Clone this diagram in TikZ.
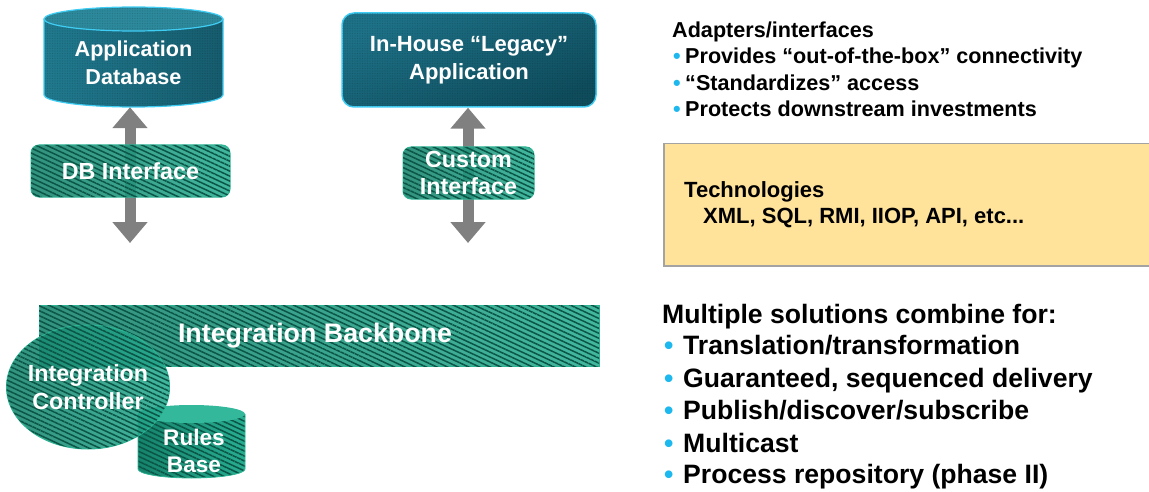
\documentclass[tikz,border=0pt]{standalone}
\usepackage{fontspec}
\setmainfont{Liberation Sans}
\usetikzlibrary{arrows.meta,shapes.geometric,patterns.meta}

\definecolor{tealdark}{HTML}{165C6E}
\definecolor{tealmid}{HTML}{217A8F}
\definecolor{tealtop}{HTML}{2D899C}
\definecolor{cyanedge}{HTML}{40CDF4}
\definecolor{legacytop}{HTML}{1E7288}
\definecolor{legacybot}{HTML}{0F4D5D}
\definecolor{greendark}{HTML}{16836C}
\definecolor{greenlight}{HTML}{28AD91}
\definecolor{greentop}{HTML}{34B89C}
\definecolor{greenedge}{HTML}{2DB494}
\definecolor{stripe}{HTML}{0A5545}
\definecolor{arrowgray}{HTML}{808080}
\definecolor{bulletblue}{HTML}{1CB8EE}
\definecolor{notefill}{HTML}{FFE39B}
\definecolor{noteedge}{HTML}{A3A3A3}

\newcommand{\blt}[1]{\makebox[#1][l]{\textcolor{bulletblue}{•}}}
\newcommand{\boxfont}[1]{\bfseries\fontsize{#1}{27.5}\selectfont}

\tikzset{
  boxtext/.style={text=white, align=center, inner sep=0pt, font=\boxfont{23.3}},
  stripes/.style={postaction={pattern={Lines[angle=-25,distance=4.5pt,line width=1.5pt]},
    pattern color=stripe, fill opacity=0.17}},
  mesh/.style={postaction={pattern={Dots[distance=2.5pt,radius=0.55pt]},
    pattern color=black, fill opacity=0.15}},
  greenbox/.style={boxtext, draw=greenedge, line width=1pt,
    left color=greendark, right color=greenlight,
    fill opacity=0.88, text opacity=1, stripes},
  drumbody/.style={left color=tealmid, right color=tealdark, mesh},
  drumtop/.style={fill=tealtop, mesh},
  drumedge/.style={draw=cyanedge, line width=1.2pt},
  rulesbody/.style={left color=greendark, right color=greenlight, stripes},
  rulestop/.style={fill=greentop},
  twoway/.style={draw=arrowgray, line width=11pt,
    {Triangle[width=34pt,length=21pt]}-{Triangle[width=34pt,length=21pt]}},
  notetext/.style={anchor=base west, inner sep=0pt,
    font=\bfseries\fontsize{21.6}{26}\selectfont},
  techtext/.style={anchor=base west, inner sep=0pt,
    font=\bfseries\fontsize{22}{26}\selectfont},
  bigtext/.style={anchor=base west, inner sep=0pt,
    font=\bfseries\fontsize{26.6}{32}\selectfont}
}

\begin{document}
\begin{tikzpicture}[x=1pt,y=1pt]
\useasboundingbox (0,0) rectangle (1149,491);

% application database drum
\path[drumbody] (44,472) -- (44,396)
  arc[start angle=180,end angle=360,x radius=89.5,y radius=12] -- (223,472) -- cycle;
\path[drumtop] (133.5,472) ellipse[x radius=89.5,y radius=12];
\draw[drumedge] (44,472) -- (44,396)
  arc[start angle=180,end angle=360,x radius=89.5,y radius=12] -- (223,472);
\draw[drumedge] (133.5,472) ellipse[x radius=89.5,y radius=12];
\node[boxtext, font=\boxfont{21.6}, minimum width=179pt, minimum height=88pt]
  (db) at (133.5,428) {Application\\Database};

% legacy application
\node[boxtext, font=\boxfont{22}, draw=cyanedge, line width=1.5pt, rounded corners=12pt,
  minimum width=254pt, minimum height=94pt,
  top color=legacytop, bottom color=legacybot, shading angle=25, mesh]
  (legacy) at (469,431) {In-House “Legacy”\\Application};

% free ends of the two-way arrows
\coordinate (dbend) at (130,248);
\coordinate (legend) at (468,248);
\draw[twoway] (dbend |- db.south) -- (dbend);
\draw[twoway] (legend |- legacy.south) -- (legend);

% interface adapters
\node[greenbox, rounded corners=8pt, minimum width=199pt, minimum height=52pt]
  (dbif) at (130.5,320) {DB Interface};
\node[greenbox, rounded corners=8pt, minimum width=131pt, minimum height=52pt]
  (customif) at (468.5,318) {Custom\\Interface};

% integration backbone
\node[greenbox, minimum width=560pt, minimum height=61pt, font=\boxfont{26.8}]
  (backbone) at (319,155.5) {\hspace{-8pt}Integration Backbone};

% rules base drum
\path[rulesbody] (138,77) -- (138,22)
  arc[start angle=180,end angle=360,x radius=53.5,y radius=9] -- (245,77) -- cycle;
\path[rulestop] (191.5,77) ellipse[x radius=53.5,y radius=9];
\draw[greenedge, line width=0.8pt] (138,77) -- (138,22)
  arc[start angle=180,end angle=360,x radius=53.5,y radius=9] -- (245,77);
\node[boxtext, font=\boxfont{22.6}] (rules) at (194,40) {Rules\\Base};

% integration controller
\node[greenbox, ellipse, inner xsep=-20pt, minimum width=163pt, minimum height=124pt]
  (controller) at (88,104) {Integration\\Controller};

% adapters notes
\node[notetext] (adapters) at (672,453) {Adapters/interfaces};
\node[notetext] (ad1) at (673,427) {\blt{12pt}Provides “out-of-the-box” connectivity};
\node[notetext] (ad2) at (673,400) {\blt{12pt}“Standardizes” access};
\node[notetext] (ad3) at (673,374) {\blt{12pt}Protects downstream investments};

% technologies panel
\node[draw=noteedge, fill=notefill, line width=1.5pt, anchor=north west,
  minimum width=490pt, minimum height=122pt, inner sep=0pt] (note) at (663,348) {};
\node[techtext] (tech) at (684,294) {Technologies};
\node[techtext] (techlist) at (703,268) {XML, SQL, RMI, IIOP, API, etc...};

% combined solutions
\node[bigtext] (multi) at (662,168) {Multiple solutions combine for:};
\node[bigtext] (m1) at (664,137) {\blt{19pt}Translation/transformation};
\node[bigtext] (m2) at (664,104) {\blt{19pt}Guaranteed, sequenced delivery};
\node[bigtext] (m3) at (664,72) {\blt{19pt}Publish/discover/subscribe};
\node[bigtext] (m4) at (664,39) {\blt{19pt}Multicast};
\node[bigtext] (m5) at (664,8) {\blt{19pt}Process repository (phase II)};
\end{tikzpicture}
\end{document}
